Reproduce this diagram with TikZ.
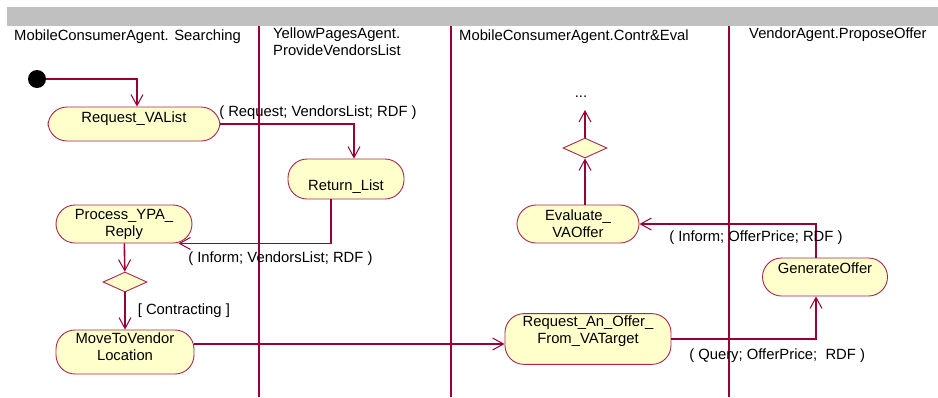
\documentclass[tikz,border=0pt]{standalone}
\usepackage{fontspec}
\setmainfont{Liberation Sans}
\usepackage{tikz}
\usetikzlibrary{positioning,shapes.geometric,arrows.meta}

\definecolor{flowred}{HTML}{990033}
\definecolor{actfill}{HTML}{FFFFCC}
\definecolor{barsilver}{HTML}{C0C0C0}

\tikzset{
  activity/.style={draw=flowred!85, fill=actfill, rounded corners=19pt,
    line width=0.9pt, align=center, inner sep=2pt},
  decision/.style={diamond, draw=flowred!85, fill=actfill, line width=0.9pt,
    minimum width=44pt, minimum height=20pt, inner sep=0pt},
  flow/.style={draw=flowred, line width=1.6pt,
    -{Straight Barb[length=11pt,width=12pt,line width=1pt]}},
  swimlane/.style={color=flowred, line width=1.1pt},
  msg/.style={inner sep=2pt},
  title/.style={inner sep=0pt, anchor=base west}
}

\begin{document}
\begin{tikzpicture}[x=1pt,y=-1pt,font=\fontsize{14.8}{17}\selectfont]
  \useasboundingbox (0,0) rectangle (938,397);
  % swimlanes
  \fill[barsilver] (7,7) rectangle (938,26);
  \foreach \x in {259,451,729}
    \draw[swimlane] (\x,26) -- (\x,397);
  \node[title] (lane1) at (14,40) {MobileConsumerAgent. Searching};
  \node[inner sep=0pt, anchor=north west, align=left] (lane2) at (273,28)
    {YellowPagesAgent.\\ProvideVendorsList};
  \node[title] (lane3) at (459,40) {MobileConsumerAgent.Contr\&Eval};
  \node[title] (lane4) at (749,38) {VendorAgent.ProposeOffer};

  % activities
  \node[circle, fill=black, minimum size=18pt, inner sep=0pt] (start) at (37,79) {};
  \node[activity, minimum width=172pt, minimum height=34pt, text depth=14pt] (act1) at (134,124) {Request\_VAList};
  \node[activity, minimum width=116pt, minimum height=40pt, text height=26pt] (act2) at (346,179) {Return\_List};
  \node[activity, minimum width=136pt, minimum height=38pt] (act3) at (124,224) {Process\_YPA\_\\Reply};
  \node[decision] (dec1) at (125,282) {};
  \node[activity, minimum width=138pt, minimum height=44pt, text depth=10pt] (act4) at (125,352) {MoveToVendor\\Location};
  \node[activity, minimum width=166pt, minimum height=50pt, text depth=19pt] (act5) at (588,339) {Request\_An\_Offer\_\\From\_VATarget};
  \node[activity, minimum width=125pt, minimum height=38pt, text depth=18pt] (act6) at (825,277) {GenerateOffer};
  \node[activity, minimum width=122pt, minimum height=38pt] (act7) at (578,224) {Evaluate\_\\VAOffer};
  \node[decision] (dec2) at (585,148) {};
  \node[inner sep=0pt] (more) at (581,97) {...};
  \coordinate (moreend) at (585,110);

  % flows
  \draw[flow] (start) -| ([xshift=3pt]act1.north);
  \draw[flow] (act1) -| node[msg, pos=0, anchor=south west, xshift=-4pt, yshift=2pt] {( Request; VendorsList; RDF )} ([xshift=8pt]act2.north);
  \draw[flow] ([xshift=-15pt]act2.south) |- node[msg, pos=1, anchor=north west, xshift=7pt, yshift=-6pt] {( Inform; VendorsList; RDF )} ([xshift=-14pt]act3.south east);
  \draw[flow] (act3) -- (dec1);
  \draw[flow] (dec1) -- node[msg, right, xshift=10pt] {[ Contracting ]} (act4);
  \draw[flow] ([yshift=8pt]act4.east) -- ([yshift=-5pt]act5.west);
  \draw[flow] (act5) -| node[msg, pos=0, anchor=north west, xshift=15pt, yshift=-7pt] {( Query; OfferPrice;~ RDF )} ([xshift=-9pt]act6.south);
  \draw[flow] ([xshift=-9pt]act6.north) |- node[msg, pos=1, anchor=north west, xshift=27pt, yshift=-4pt] {( Inform; OfferPrice; RDF )} (act7);
  \draw[flow] (act7.north -| dec2) -- (dec2);
  \draw[flow] (dec2) -- (moreend);
\end{tikzpicture}
\end{document}
